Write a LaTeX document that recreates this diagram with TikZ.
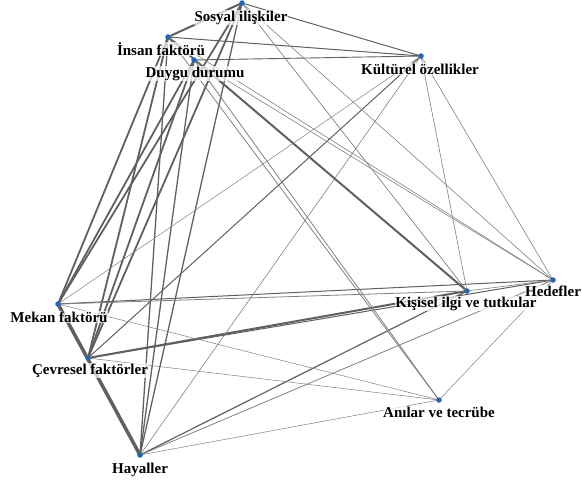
\documentclass[tikz,border=0pt]{standalone}
\usepackage{fontspec}
\setmainfont{Liberation Serif}
\usetikzlibrary{backgrounds}
\definecolor{dotblue}{RGB}{36,102,176}
\definecolor{eg}{RGB}{96,96,96}
\definecolor{eglight}{RGB}{128,128,128}
\begin{document}
\begin{tikzpicture}[x=1pt,y=-1pt,
  dot/.style={circle,fill=dotblue,inner sep=0pt,minimum size=5.5pt},
  lbl/.style={font=\fontsize{15}{15}\selectfont\bfseries,anchor=base,inner sep=0.5pt,
    text=black,fill=white,fill opacity=0.7,text opacity=1}]
\useasboundingbox (0,0) rectangle (582,482);
\node[dot] (S) at (242,3) {};
\node[dot] (I) at (168,37) {};
\node[dot] (D) at (194,60) {};
\node[dot] (K) at (421,56) {};
\node[dot] (H) at (553,280) {};
\node[dot] (P) at (467,291) {};
\node[dot] (M) at (58,304) {};
\node[dot] (C) at (88,358) {};
\node[dot] (A) at (439,400) {};
\node[dot] (Y) at (140,455) {};
\begin{scope}[on background layer]
\foreach \a/\b/\w in {S/I/2.0,I/P/2.0,S/K/1.0,I/K/1.0,D/K/0.9,
  S/M/1.8,S/C/1.8,S/Y/1.3,I/M/1.8,I/C/1.8,I/Y/1.3,D/M/1.8,D/C/1.8,D/Y/1.3,
  K/C/1.0,M/H/1.0,C/P/2.0,C/H/1.0,Y/P/1.2,M/Y/3.5}
  \draw[draw=eg,line width=\w pt] (\a.center) -- (\b.center);
\foreach \a/\b/\w in {K/M/0.5,K/Y/0.6,K/P/0.6,K/H/0.6,I/A/0.8,D/A/0.8,S/P/0.7,
  S/H/0.6,I/H/0.6,D/H/0.6,M/P/0.8,M/A/0.5,C/A/0.5,Y/H/0.8,Y/A/0.5,A/H/0.5,P/H/0.6}
  \draw[draw=eglight,line width=\w pt] (\a.center) -- (\b.center);
\end{scope}
\node[lbl] (tS) at (241,21) {Sosyal ilişkiler};
\node[lbl] (tI) at (161,55) {İnsan faktörü};
\node[lbl] (tD) at (195,77) {Duygu durumu};
\node[lbl] (tK) at (420,74) {Kültürel özellikler};
\node[lbl] (tH) at (553,296) {Hedefler};
\node[lbl] (tP) at (466,307) {Kişisel ilgi ve tutkular};
\node[lbl] (tA) at (439,417) {Anılar ve tecrübe};
\node[lbl] (tM) at (59,322) {Mekan faktörü};
\node[lbl] (tC) at (90,374) {Çevresel faktörler};
\node[lbl] (tY) at (140,473) {Hayaller};
\end{tikzpicture}
\end{document}
